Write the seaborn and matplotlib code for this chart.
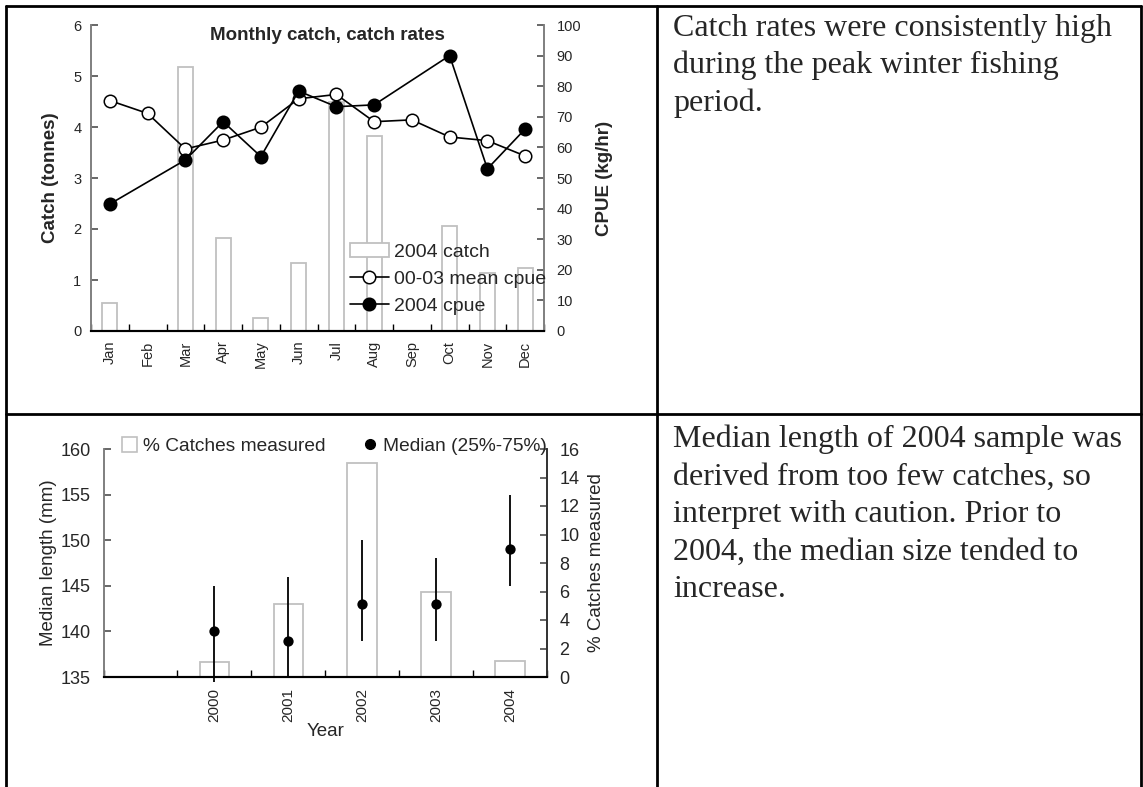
import numpy as np
import pandas as pd
import matplotlib
matplotlib.use("Agg")
import matplotlib.pyplot as plt
from matplotlib.lines import Line2D
from matplotlib.patches import Patch
import seaborn as sns

# top chart data
months = ["Jan", "Feb", "Mar", "Apr", "May", "Jun", "Jul", "Aug", "Sep", "Oct", "Nov", "Dec"]
catch_2004 = [0.55, 0, 5.18, 1.83, 0.26, 1.34, 4.5, 3.82, 0, 2.05, 1.13, 1.23]
mean_cpue_00_03 = [75.3, 71.1, 59.5, 62.4, 66.6, 75.9, 77.3, 68.4, 69.0, 63.4, 62.2, 57.2]
cpue_2004 = [41.5, np.nan, 55.9, 68.4, 57.0, 78.4, 73.3, 73.9, np.nan, 90.0, 53.0, 66.0]

# bottom chart data
years = [2000, 2001, 2002, 2003, 2004]
pct_measured = [1.05, 5.15, 15.05, 6.0, 1.1]
median_len = [140, 139, 143, 143, 149]
q25_len = [134.5, 135, 139, 139, 145]
q75_len = [145, 146, 150, 148, 155]

text_top = ["Catch rates were consistently high",
            "during the peak winter fishing",
            "period."]
text_bottom = ["Median length of 2004 sample was",
               "derived from too few catches, so",
               "interpret with caution. Prior to",
               "2004, the median size tended to",
               "increase."]

sns.set_theme(style="ticks")
plt.rcParams["font.family"] = ["Liberation Sans", "DejaVu Sans"]

W, H = 1143, 787
fig = plt.figure(figsize=(W / 100, H / 100), dpi=100)


def box(x0, y0, x1, y1):
    return [x0 / W, 1 - y1 / H, (x1 - x0) / W, (y1 - y0) / H]


BAR_EDGE = "#c0c0c0"
SPINE_GREY = "#808080"

# ---- top chart: monthly catch and cpue
df1 = pd.DataFrame({"month": months, "catch": catch_2004,
                    "mean": mean_cpue_00_03, "cpue": cpue_2004})
df1["pos"] = np.arange(len(months))

ax1 = fig.add_axes(box(91, 25, 544, 331))
sns.barplot(data=df1, x="month", y="catch", order=months, color="white",
            saturation=1, edgecolor=BAR_EDGE, linewidth=1.3, width=0.4,
            ax=ax1, label="2004 catch")
ax2 = ax1.twinx()
sns.lineplot(data=df1, x="pos", y="mean", ax=ax2, color="black", marker="o",
             markersize=9, markerfacecolor="white", markeredgecolor="black",
             markeredgewidth=1.1, linewidth=1.2, label="00-03 mean cpue")
sns.lineplot(data=df1.dropna(subset=["cpue"]), x="pos", y="cpue", ax=ax2,
             color="black", marker="o", markersize=9, markerfacecolor="black",
             markeredgecolor="black", markeredgewidth=1.1, linewidth=1.2,
             label="2004 cpue")
for a in (ax1, ax2):
    if a.get_legend() is not None:
        a.get_legend().remove()

ax1.set_xlim(-0.5, len(months) - 0.5)
ax1.set_ylim(0, 6)
ax2.set_ylim(0, 100)
ax1.set_yticks(range(0, 7))
ax2.set_yticks(range(0, 101, 10))
ax1.set_xticks(range(len(months)))
ax1.set_xticklabels(months, rotation=90)
ax1.set_xticks(np.arange(-0.5, len(months), 1), minor=True)
ax1.tick_params(axis="x", which="major", length=0, pad=7, labelsize=10.5)
ax1.tick_params(axis="x", which="minor", direction="in", length=5, color="black")
ax1.tick_params(axis="y", direction="in", length=5, pad=7, labelsize=10.5, color="#555555")
ax2.tick_params(axis="y", direction="in", length=5, pad=9, labelsize=10.5, color="#555555")
ax1.set_xlabel("")
ax2.set_xlabel("")
ax1.set_ylabel("Catch (tonnes)", fontsize=13.5, fontweight="bold", labelpad=10)
ax2.set_ylabel("CPUE (kg/hr)", fontsize=13.5, fontweight="bold", labelpad=11)
for a in (ax1, ax2):
    a.spines["top"].set_visible(False)
    a.spines["left"].set_color(SPINE_GREY)
    a.spines["right"].set_color(SPINE_GREY)
    a.spines["bottom"].set_color("black")
    a.spines["bottom"].set_linewidth(1.5)
ax1.text(0.521, 0.967, "Monthly catch, catch rates", transform=ax1.transAxes,
         ha="center", va="center", fontsize=13.5, fontweight="bold")

h1, l1 = ax1.get_legend_handles_labels()
h2, l2 = ax2.get_legend_handles_labels()
fig.legend(h1 + h2, l1 + l2, loc="upper left", bbox_to_anchor=(350 / W, 1 - 243 / H),
           frameon=False, fontsize=14, borderpad=0, borderaxespad=0,
           handletextpad=0.25, labelspacing=0.5)

# ---- bottom chart: median length and % catches measured
df2 = pd.DataFrame({"year": years, "pct": pct_measured, "median": median_len,
                    "q25": q25_len, "q75": q75_len})

ax3 = fig.add_axes(box(103.5, 449, 547, 677))
ax4 = ax3.twinx()
sns.barplot(data=df2, x="year", y="pct", native_scale=True, color="white",
            saturation=1, edgecolor=BAR_EDGE, linewidth=1.3, width=0.4, ax=ax4)
ax3.vlines(df2["year"], df2["q25"], df2["q75"], color="black", linewidth=1.3,
           clip_on=False)
sns.scatterplot(data=df2, x="year", y="median", ax=ax3, color="black", s=55,
                edgecolor="black", linewidth=0, zorder=3)
ax3.set_zorder(ax4.get_zorder() + 1)
ax3.patch.set_visible(False)

ax3.set_xlim(1998.5, 2004.5)
ax3.set_ylim(135, 160)
ax4.set_ylim(0, 16)
ax3.set_yticks(range(135, 161, 5))
ax4.set_yticks(range(0, 17, 2))
ax3.set_xticks(years)
ax3.set_xticklabels([str(y) for y in years], rotation=90)
ax3.set_xticks(np.arange(1998.5, 2005, 1), minor=True)
ax3.tick_params(axis="x", which="major", length=0, pad=8, labelsize=11)
ax3.tick_params(axis="x", which="minor", direction="in", length=5, color="black")
ax3.tick_params(axis="y", direction="in", length=5, pad=9, labelsize=13, color="#555555")
ax4.tick_params(axis="y", direction="in", length=5, pad=9, labelsize=13, color="#555555")
ax4.tick_params(axis="x", length=0)
ax3.set_xlabel("Year", fontsize=13.5, labelpad=1)
ax4.set_xlabel("")
ax3.set_ylabel("Median length (mm)", fontsize=13.5, labelpad=3)
ax4.set_ylabel("% Catches measured", fontsize=13.5, labelpad=6)
for a in (ax3, ax4):
    a.spines["top"].set_visible(False)
    a.spines["left"].set_color(SPINE_GREY)
    a.spines["right"].set_color("#333333")
    a.spines["bottom"].set_color("black")
    a.spines["bottom"].set_linewidth(1.5)

leg_handles = [Patch(facecolor="white", edgecolor=BAR_EDGE, linewidth=1.2),
               Line2D([], [], linestyle="none", marker="o", color="black", markersize=7)]
fig.legend(leg_handles, ["% Catches measured", "Median (25%-75%)"], ncol=2,
           loc="center left", bbox_to_anchor=(122 / W, 1 - 446 / H), frameon=False,
           fontsize=13.8, borderpad=0, borderaxespad=0, handlelength=0.8,
           handleheight=0.8, handletextpad=0.3, columnspacing=1.9)

# ---- table frame and commentary text
frame_lines = [((6, 6), (1141, 6)), ((6, 6), (6, 787)), ((1141, 6), (1141, 787)),
               ((657, 6), (657, 787)), ((6, 414), (1141, 414))]
for (x0, y0), (x1, y1) in frame_lines:
    fig.add_artist(Line2D([x0 / W, x1 / W], [1 - y0 / H, 1 - y1 / H],
                          transform=fig.transFigure, color="black", linewidth=2))

for i, line in enumerate(text_top):
    fig.text(673 / W, 1 - (36 + 37.5 * i) / H, line, va="baseline", ha="left",
             fontsize=23, family=["Liberation Serif", "DejaVu Serif"])
for i, line in enumerate(text_bottom):
    fig.text(673 / W, 1 - (447 + 37.5 * i) / H, line, va="baseline", ha="left",
             fontsize=23, family=["Liberation Serif", "DejaVu Serif"])

fig.savefig("out.png", dpi=100)
